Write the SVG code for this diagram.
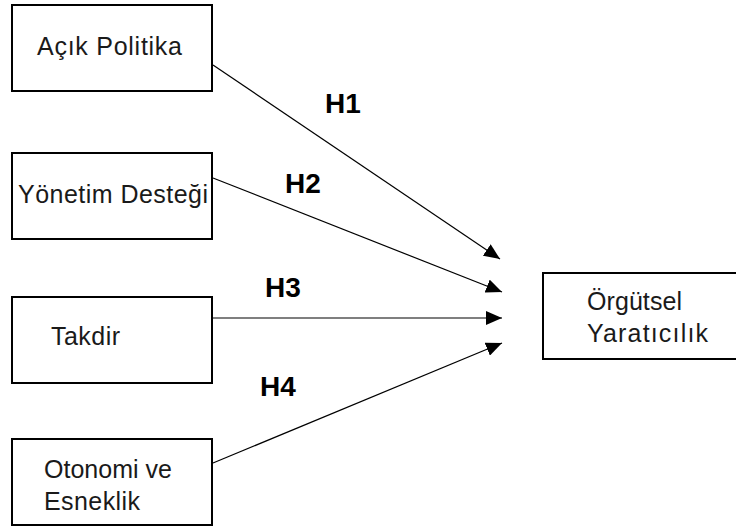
<svg xmlns="http://www.w3.org/2000/svg" width="736" height="526" viewBox="0 0 736 526">
<style>
.box{fill:#fff;stroke:#000;stroke-width:2}
.t{font-family:"Liberation Sans",Arial,sans-serif;font-size:25px;fill:#1a1a1a}
.h{font-family:"Liberation Sans",Arial,sans-serif;font-size:28px;font-weight:bold;fill:#000}
.c{stroke:#000;stroke-width:1.2;fill:none;marker-end:url(#ah)}
</style>
<defs>
<marker id="ah" markerUnits="userSpaceOnUse" markerWidth="17" markerHeight="14" refX="16" refY="7" orient="auto" viewBox="0 0 17 14">
<path d="M0,0 L16,7 L0,14 z" fill="#000"/>
</marker>
</defs>
<rect width="736" height="526" fill="#fff"/>
<g id="n1"><rect class="box" x="12" y="5" width="200" height="86"/><text class="t" x="37" y="55" textLength="145" lengthAdjust="spacing">Açık Politika</text></g>
<g id="n2"><rect class="box" x="12" y="153" width="200" height="86"/><text class="t" x="18" y="203" textLength="190" lengthAdjust="spacing">Yönetim Desteği</text></g>
<g id="n3"><rect class="box" x="12" y="297" width="200" height="86"/><text class="t" x="51" y="345" textLength="69" lengthAdjust="spacing">Takdir</text></g>
<g id="n4"><rect class="box" x="12" y="439" width="200" height="86"/><text class="t" x="44" y="478" textLength="128" lengthAdjust="spacing">Otonomi ve</text><text class="t" x="44" y="510" textLength="96" lengthAdjust="spacing">Esneklik</text></g>
<g id="n5"><rect class="box" x="543" y="273" width="200" height="86"/><text class="t" x="587" y="310" textLength="95" lengthAdjust="spacing">Örgütsel</text><text class="t" x="587" y="342" textLength="121" lengthAdjust="spacing">Yaratıcılık</text></g>
<g id="connectors">
<line class="c" x1="213" y1="65" x2="500" y2="259"/>
<line class="c" x1="213" y1="178" x2="502" y2="292"/>
<line class="c" x1="213" y1="318" x2="502" y2="318"/>
<line class="c" x1="213" y1="463" x2="502" y2="343"/>
<text class="h" x="325" y="113">H1</text>
<text class="h" x="285" y="193">H2</text>
<text class="h" x="265" y="297">H3</text>
<text class="h" x="260" y="396">H4</text>
</g>
</svg>
